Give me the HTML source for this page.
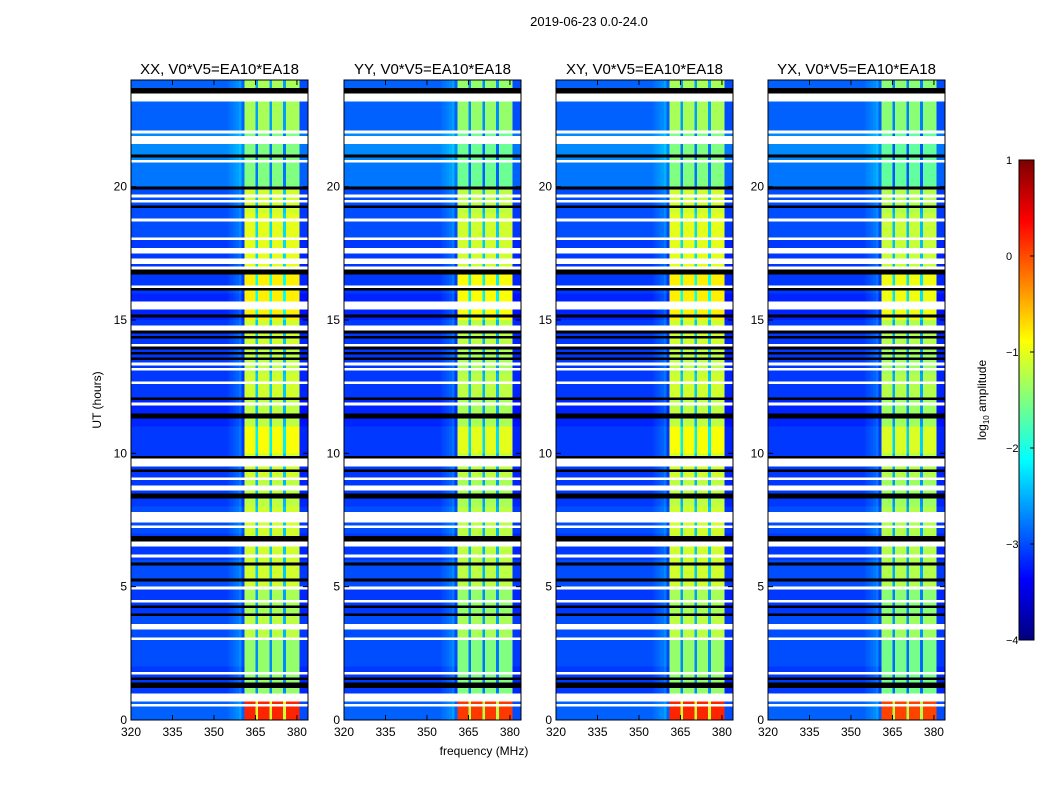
<!DOCTYPE html>
<html><head><meta charset="utf-8">
<style>
body{margin:0;background:#fff;width:1050px;height:800px;overflow:hidden;position:relative;font-family:"Liberation Sans",sans-serif}
canvas{position:absolute;image-rendering:pixelated}
svg{position:absolute;left:0;top:0}
</style></head>
<body>
<div>
<canvas id="c0" width="64" height="240" style="left:131px;top:80px;width:177px;height:640px"></canvas>
<canvas id="c1" width="64" height="240" style="left:344px;top:80px;width:177px;height:640px"></canvas>
<canvas id="c2" width="64" height="240" style="left:556px;top:80px;width:177px;height:640px"></canvas>
<canvas id="c3" width="64" height="240" style="left:768px;top:80px;width:177px;height:640px"></canvas>
<canvas id="cb" width="1" height="256" style="left:1019px;top:160px;width:15px;height:480px"></canvas>
<svg id="ov" width="1050" height="800"></svg>
</div>
<script>
const panelTitles = ["XX, V0*V5=EA10*EA18","YY, V0*V5=EA10*EA18","XY, V0*V5=EA10*EA18","YX, V0*V5=EA10*EA18"];
const xTicks = [320,335,350,365,380];
const yTicks = [0,5,10,15,20];
const cbTicks = [1,0,-1,-2,-3,-4];
// background level per hour (log10 amplitude)
const bgLevel = [-2.9,-3.1,-3.0,-3.0,-3.1,-3.0,-3.1,-3.0,-3.1,-3.1,-3.1,-3.2,-3.1,-3.1,-3.1,-3.2,-3.1,-3.1,-3.0,-3.0,-2.8,-2.7,-2.9,-2.9];
// band level per hour
const bandLevel = [0.2,-1.4,-1.4,-1.2,-1.3,-1.1,-1.1,-1.1,-1.2,-1.1,-0.9,-1.2,-1.1,-1.2,-1.1,-0.8,-0.8,-1.0,-1.0,-1.1,-1.5,-1.5,-1.3,-1.3];
// per-channel (1 MHz, 320..383) offset
const specOffset = [0,0,0,0,0,0,0,0,0,0, 0,0,0,0,0,0,0,0,0,0, 0,0,0,0,0,0,0,0,0,0, 0,0,0,0,0,0.05,0.1,0.15,0.2,0.3, 0,0,0,0,0,-1.3,0,0,0,0, -1.3,0,0,0,0,-1.3,0,0,0,0, 0,-0.1,-0.1,-0.1];
const bandMask = [0,0,0,0,0,0,0,0,0,0, 0,0,0,0,0,0,0,0,0,0, 0,0,0,0,0,0,0,0,0,0, 0,0,0,0,0,0,0,0,0,0, 0,1,1,1,1,1,1,1,1,1, 1,1,1,1,1,1,1,1,1,1, 1,0,0,0];
// flagged times (hours): white = no data, black = zeroed
const whiteRows = [23.2,23.3,23.4,22.0,21.6,21.7,21.8,20.9,19.6,19.4,18.7,18.0,17.5,17.6,17.2,17.1,16.9,16.2,15.6,15.5,15.4,14.6,14.7,14.0,13.3,13.1,12.6,11.8,9.5,9.6,9.7,9.0,8.6,8.7,7.5,7.6,7.7,7.4,7.2,6.5,6.6,6.1,4.9,4.4,3.5,3.4,3.0,1.7,0.7,0.8,0.9,0.5];
const blackRows = [23.6,23.5,21.1,19.9,19.2,16.8,16.7,16.1,15.1,14.5,14.3,13.9,13.7,13.5,12.0,11.3,11.4,9.8,9.3,8.4,8.3,6.8,6.7,5.8,5.2,4.2,3.9,1.5,1.3,1.2];
const panelOffset = [0,-0.1,0,-0.15];
const vmin=-4, vmax=1;

function jet(t){const c=v=>Math.max(0,Math.min(1,v));return [c(1.5-Math.abs(4*t-3))*255,c(1.5-Math.abs(4*t-2))*255,c(1.5-Math.abs(4*t-1))*255];}
function rowOf(h){return 239-Math.round(h*10);}
const wset=new Set(whiteRows.map(rowOf)), bset=new Set(blackRows.map(rowOf));
for(let p=0;p<4;p++){
  const cv=document.getElementById('c'+p),ctx=cv.getContext('2d'),img=ctx.createImageData(64,240);
  for(let r=0;r<240;r++){
    const h=Math.floor((239-r)/10);
    for(let i=0;i<64;i++){
      const k=(r*64+i)*4;let col;
      if(wset.has(r)) col=[255,255,255];
      else if(bset.has(r)) col=[0,0,0];
      else{
        let v=bandMask[i]?bandLevel[h]+panelOffset[p]+specOffset[i]:bgLevel[h]+specOffset[i];
        col=jet(Math.max(0,Math.min(1,(v-vmin)/(vmax-vmin))));
      }
      img.data[k]=col[0];img.data[k+1]=col[1];img.data[k+2]=col[2];img.data[k+3]=255;
    }
  }
  ctx.putImageData(img,0,0);
}
{const cv=document.getElementById('cb'),ctx=cv.getContext('2d'),img=ctx.createImageData(1,256);
for(let r=0;r<256;r++){const c=jet(1-r/255);img.data[r*4]=c[0];img.data[r*4+1]=c[1];img.data[r*4+2]=c[2];img.data[r*4+3]=255;}
ctx.putImageData(img,0,0);}

const NS='http://www.w3.org/2000/svg',ov=document.getElementById('ov');
function mk(tag,attrs,txt){const e=document.createElementNS(NS,tag);for(const a in attrs)e.setAttribute(a,attrs[a]);if(txt!==undefined)e.textContent=txt;ov.appendChild(e);return e;}
const lefts=[131,344,556,768],W=177,T=80,H=640;
const xs=f=>(f-320)/64*W, ys=h=>T+H-h/24*H;
for(let p=0;p<4;p++){
  const L=lefts[p];
  const fr=mk('rect',{x:L,y:T,width:W,height:H,fill:'none',stroke:'#000','stroke-width':1});
  
  
  const tt=mk('text',{x:L+W/2,y:74,'text-anchor':'middle','font-size':15},panelTitles[p]);
  
  
  xTicks.forEach(f=>{const x=L+xs(f);
    mk('line',{x1:x,y1:T+H,x2:x,y2:T+H-5,stroke:'#000'});mk('line',{x1:x,y1:T,x2:x,y2:T+5,stroke:'#000'});
    const t=mk('text',{x:x,y:736,'text-anchor':'middle','font-size':12},String(f));
    
    });
  yTicks.forEach(h=>{const y=ys(h);
    mk('line',{x1:L,y1:y,x2:L+5,y2:y,stroke:'#000'});mk('line',{x1:L+W,y1:y,x2:L+W-5,y2:y,stroke:'#000'});
    const t=mk('text',{x:L-4,y:y+4,'text-anchor':'end','font-size':12},String(h));
    
    });
}
const cbf=mk('rect',{x:1019,y:160,width:15,height:480,fill:'none',stroke:'#000'});


cbTicks.forEach(v=>{const y=160+(1-v)/5*480;
  mk('line',{x1:1034,y1:y,x2:1030,y2:y,stroke:'#000'});
  const t=mk('text',{x:1006,y:y+4,'font-size':11},v<0?'\u2212'+(-v):String(v));
  
  });
const st=mk('text',{x:589,y:26,'text-anchor':'middle','font-size':13},'2019-06-23 0.0-24.0');


const xl=mk('text',{x:484,y:755,'text-anchor':'middle','font-size':12},'frequency (MHz)');


const yl=mk('text',{x:101,y:400,'text-anchor':'middle','font-size':12,transform:'rotate(-90 101 400)'},'UT (hours)');


const cl=mk('text',{x:986,y:400,'text-anchor':'middle','font-size':12,transform:'rotate(-90 986 400)'});


cl.innerHTML='log<tspan font-size="8" dy="3">10</tspan><tspan dy="-3"> amplitude</tspan>';
</script>
</body></html>
